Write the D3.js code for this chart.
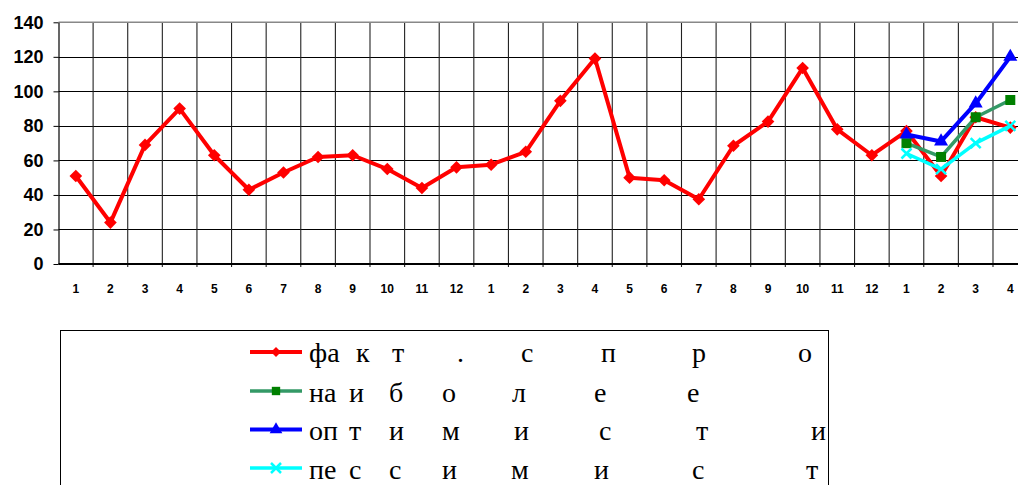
<!DOCTYPE html>
<html>
<head>
<meta charset="utf-8">
<script src="https://cdn.jsdelivr.net/npm/d3@7"></script>
<style>
  html, body { margin: 0; padding: 0; background: #fff; overflow: hidden; }
  svg { display: block; }
</style>
</head>
<body>
<svg id="chart" width="1018" height="485"></svg>
<script>
// Month labels along the x axis (two full years, then four months)
const months = [1,2,3,4,5,6,7,8,9,10,11,12, 1,2,3,4,5,6,7,8,9,10,11,12, 1,2,3,4];
const yTicks = [0, 20, 40, 60, 80, 100, 120, 140];

// Actual demand
const fact = [51, 24, 69, 90, 63, 43, 53, 62, 63, 55, 44, 56,
              57.5, 65, 94.5, 119, 50, 48.5, 37.5, 68.5, 82.5, 113.5, 78, 63,
              77, 51, 85, 79];
// Forecast scenarios for the last four months
const forecastStart = 24;
const likely      = [70, 62, 85, 95];
const optimistic  = [75, 71, 93, 120];
const pessimistic = [64, 55, 70, 80];

// Legend captions, split into spaced glyph groups
const legendRows = [
  ["фа","к","т",".","с","п","р","о"],
  ["на","и","б","о","л","е","е"],
  ["оп","т","и","м","и","с","т","и"],
  ["пе","с","с","и","м","и","с","т"]
];
const legendGlyphX = [
  [309, 356, 392, 457, 521, 601, 692, 798],
  [309, 349, 389, 442, 512, 594, 687],
  [309, 349, 389, 442, 514, 599, 696, 811],
  [309, 349, 389, 442, 511, 594, 692, 806]
];

const svg = d3.select("#chart");

const plotLeft = 58.5, plotRight = 1027.6, plotTop = 22.3, plotBottom = 264;
const n = months.length;

const xb = d3.scaleLinear().domain([0, n]).range([plotLeft, plotRight]);
const cx = i => xb(i + 0.5);
const y = d3.scaleLinear().domain([0, 140]).range([plotBottom, plotTop]);

// grid
const grid = svg.append("g");
grid.selectAll("line.h")
  .data(yTicks.filter(v => v > 0 && v < 140))
  .join("line")
  .attr("x1", plotLeft).attr("x2", 1018)
  .attr("y1", d => Math.round(y(d)) + 0.5).attr("y2", d => Math.round(y(d)) + 0.5)
  .attr("stroke", "#000").attr("stroke-width", 1);
grid.selectAll("line.v")
  .data(d3.range(1, n))
  .join("line")
  .attr("x1", d => xb(d)).attr("x2", d => xb(d))
  .attr("y1", y(140)).attr("y2", plotBottom + 3)
  .attr("stroke", "#222").attr("stroke-width", 1.1);
grid.append("line")
  .attr("x1", plotLeft).attr("x2", 1018)
  .attr("y1", y(140)).attr("y2", y(140))
  .attr("stroke", "#888").attr("stroke-width", 1.6);

// y axis
const yAxis = d3.axisLeft(y).tickValues(yTicks).tickSizeInner(5).tickSizeOuter(0).tickPadding(10);
const gy = svg.append("g").attr("transform", `translate(${plotLeft},0)`).call(yAxis);
gy.select(".domain").attr("stroke", "#000").attr("stroke-width", 1.2);
gy.selectAll(".tick line").attr("stroke", "#000");
gy.selectAll("text")
  .attr("font-family", "Arial, 'Liberation Sans', sans-serif")
  .attr("font-weight", "bold").attr("font-size", 18).attr("fill", "#000");

// x axis
svg.append("line")
  .attr("x1", plotLeft).attr("x2", 1018)
  .attr("y1", plotBottom).attr("y2", plotBottom)
  .attr("stroke", "#000").attr("stroke-width", 2);
svg.append("g").selectAll("text")
  .data(months)
  .join("text")
  .attr("x", (d, i) => cx(i))
  .attr("y", 292.5)
  .attr("text-anchor", "middle")
  .attr("font-family", "Arial, 'Liberation Sans', sans-serif")
  .attr("font-weight", "bold").attr("font-size", 12).attr("fill", "#000")
  .text(d => d);

// series
const diamond = d3.symbol().type(d3.symbolSquare).size(80)();
const square = d3.symbol().type(d3.symbolSquare).size(100)();
const triangle = d3.symbol().type(d3.symbolTriangle).size(85)();
const cross = r => `M${-r},${-r}L${r},${r}M${-r},${r}L${r},${-r}`;

function drawSeries(values, offset, opt) {
  const pts = values.map((v, k) => [cx(offset + k), y(v)]);
  const g = svg.append("g");
  g.append("path")
    .attr("d", d3.line()(pts))
    .attr("fill", "none")
    .attr("stroke", opt.line)
    .attr("stroke-width", opt.width)
    .attr("stroke-linejoin", "round");
  g.selectAll("path.m")
    .data(pts)
    .join("path")
    .attr("transform", d => `translate(${d[0]},${d[1]})` + (opt.rotate ? " rotate(45)" : ""))
    .attr("d", opt.marker)
    .attr("fill", opt.markerFill || "none")
    .attr("stroke", opt.markerStroke || "none")
    .attr("stroke-width", opt.markerStrokeWidth || 0);
}

drawSeries(fact, 0, { line: "#ff0000", width: 4, marker: diamond, rotate: true, markerFill: "#ff0000" });
drawSeries(likely, forecastStart, { line: "#339966", width: 3.5, marker: square, markerFill: "#008000" });
drawSeries(optimistic, forecastStart, { line: "#0000ff", width: 4, marker: triangle, markerFill: "#0000ff" });
drawSeries(pessimistic, forecastStart, { line: "#00ffff", width: 3.5, marker: cross(5), markerStroke: "#00ffff", markerStrokeWidth: 2.5 });

// legend
const lg = svg.append("g");
lg.append("rect")
  .attr("x", 60.5).attr("y", 330.5)
  .attr("width", 768).attr("height", 200)
  .attr("fill", "#fff").attr("stroke", "#000").attr("stroke-width", 1);

const legendSym = [
  { line: "#ff0000", width: 4, marker: d3.symbol().type(d3.symbolSquare).size(50)(), rotate: true, fill: "#ff0000" },
  { line: "#339966", width: 3.5, marker: d3.symbol().type(d3.symbolSquare).size(70)(), fill: "#008000" },
  { line: "#0000ff", width: 4, marker: d3.symbol().type(d3.symbolTriangle).size(70)(), fill: "#0000ff" },
  { line: "#00ffff", width: 3.5, marker: cross(5), stroke: "#00ffff" }
];
const rowY = [352, 391, 429.5, 468];
const rowBase = [362, 401.5, 440, 478.5];

legendRows.forEach((groups, r) => {
  const s = legendSym[r];
  lg.append("line")
    .attr("x1", 250).attr("x2", 302)
    .attr("y1", rowY[r]).attr("y2", rowY[r])
    .attr("stroke", s.line).attr("stroke-width", s.width);
  lg.append("path")
    .attr("transform", `translate(276,${rowY[r]})` + (s.rotate ? " rotate(45)" : ""))
    .attr("d", s.marker)
    .attr("fill", s.fill || "none")
    .attr("stroke", s.stroke || "none")
    .attr("stroke-width", s.stroke ? 2.5 : 0);
  const t = lg.append("text")
    .attr("y", rowBase[r])
    .attr("font-family", "'Times New Roman', Tinos, 'Liberation Serif', 'DejaVu Serif', serif")
    .attr("font-size", 28)
    .attr("fill", "#000");
  t.selectAll("tspan")
    .data(groups)
    .join("tspan")
    .attr("x", (d, i) => legendGlyphX[r][i])
    .text(d => d);
});
</script>
</body>
</html>
